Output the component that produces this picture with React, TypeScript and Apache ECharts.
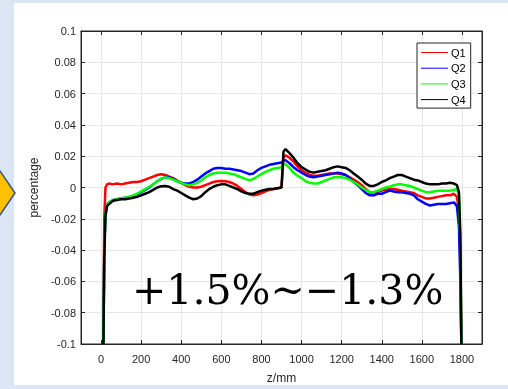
import React, { useEffect, useRef } from "react";
import * as echarts from "echarts";

const zMm = [
  12, 16, 22, 30,
  40, 60, 80, 100, 120, 140, 160, 180, 200, 220,
  240, 260, 280, 300, 320, 340, 360, 380, 400, 420,
  440, 460, 480, 500, 520, 540, 560, 580, 600, 620,
  640, 660, 680, 700, 720, 740, 760, 780, 800, 820,
  840, 860, 880, 900, 910, 920,
  940, 960, 980, 1000, 1020, 1040, 1060, 1080, 1100, 1120,
  1140, 1160, 1180, 1200, 1220, 1240, 1260, 1280, 1300, 1320,
  1340, 1360, 1380, 1400, 1420, 1440, 1460, 1480, 1500, 1520,
  1540, 1560, 1580, 1600, 1620, 1640, 1660, 1680, 1700, 1720,
  1740, 1760, 1775, 1785, 1792, 1797,
];

const q1 = [
  -0.1, -0.02, 0, 0.002,
  0.0025, 0.002, 0.0025, 0.002, 0.0025, 0.003, 0.0035, 0.0035, 0.004, 0.005,
  0.006, 0.007, 0.008, 0.0085, 0.008, 0.007, 0.006, 0.0045, 0.003, 0.0015,
  0.0005, 0, 0, 0.0005, 0.0015, 0.0025, 0.0035, 0.004, 0.0042, 0.004,
  0.0035, 0.0025, 0.001, -0.001, -0.003, -0.0045, -0.005, -0.0045, -0.0035, -0.0025,
  -0.0015, -0.001, -0.0005, 0, 0.019, 0.0205,
  0.019, 0.0165, 0.0135, 0.011, 0.0095, 0.008, 0.0075, 0.0075, 0.008, 0.0085,
  0.009, 0.009, 0.009, 0.0085, 0.008, 0.0065, 0.005, 0.0035, 0.0015, -0.001,
  -0.003, -0.005, -0.003, -0.002, -0.0015, -0.001, -0.001, -0.0015, -0.002, -0.0025,
  -0.003, -0.0035, -0.005, -0.006, -0.007, -0.007, -0.0065, -0.006, -0.0055, -0.005,
  -0.005, -0.004, -0.006, -0.015, -0.045, -0.1,
];

const q2 = [
  -0.1, -0.04, -0.017, -0.011,
  -0.0095, -0.008, -0.0075, -0.007, -0.0065, -0.006, -0.0055, -0.0045, -0.003, -0.0015,
  0, 0.002, 0.004, 0.0055, 0.0065, 0.0065, 0.0055, 0.004, 0.003, 0.0025,
  0.0025, 0.0035, 0.005, 0.007, 0.009, 0.0105, 0.012, 0.0125, 0.0125, 0.012,
  0.012, 0.0115, 0.011, 0.0105, 0.0095, 0.0085, 0.009, 0.011, 0.0125, 0.0135,
  0.0145, 0.015, 0.0155, 0.016, 0.017, 0.0175,
  0.0155, 0.013, 0.011, 0.0095, 0.008, 0.007, 0.0065, 0.007, 0.0075, 0.008,
  0.0085, 0.009, 0.0095, 0.009, 0.008, 0.006, 0.0035, 0.0015, -0.001, -0.0035,
  -0.005, -0.005, -0.004, -0.004, -0.003, -0.002, -0.0025, -0.003, -0.003, -0.0035,
  -0.004, -0.005, -0.0075, -0.009, -0.0105, -0.0115, -0.011, -0.0105, -0.0105, -0.0105,
  -0.01, -0.0095, -0.012, -0.025, -0.06, -0.1,
];

const q3 = [
  -0.1, -0.04, -0.017, -0.011,
  -0.0095, -0.008, -0.0075, -0.007, -0.0065, -0.006, -0.005, -0.004, -0.0025, -0.001,
  0.0005, 0.002, 0.004, 0.0055, 0.0065, 0.006, 0.005, 0.004, 0.003, 0.002,
  0.0015, 0.002, 0.003, 0.0045, 0.0065, 0.008, 0.009, 0.0095, 0.0095, 0.0095,
  0.009, 0.0085, 0.0075, 0.0065, 0.0055, 0.0045, 0.0055, 0.007, 0.0085, 0.01,
  0.011, 0.012, 0.0125, 0.013, 0.0145, 0.015,
  0.0125, 0.0095, 0.0075, 0.006, 0.004, 0.003, 0.0025, 0.0025, 0.0035, 0.0045,
  0.0055, 0.0065, 0.0065, 0.0065, 0.006, 0.005, 0.0035, 0.002, 0, -0.0015,
  -0.003, -0.003, -0.002, -0.001, 0, 0.0005, 0.0015, 0.002, 0.002, 0.0015,
  0.001, 0, -0.001, -0.002, -0.003, -0.003, -0.0025, -0.002, -0.002, -0.002,
  -0.002, -0.0015, -0.001, -0.005, -0.035, -0.1,
];

const q4 = [
  -0.1, -0.045, -0.018, -0.012,
  -0.0105, -0.0085, -0.008, -0.0075, -0.0075, -0.007, -0.0065, -0.006, -0.005, -0.004,
  -0.003, -0.0015, 0, 0.0008, 0.001, 0.0005, -0.001, -0.002, -0.0035, -0.005,
  -0.0065, -0.0075, -0.007, -0.0055, -0.003, -0.001, 0.0005, 0.0015, 0.002, 0.002,
  0.001, 0, -0.001, -0.0025, -0.0035, -0.004, -0.004, -0.003, -0.002, -0.0015,
  -0.001, -0.001, -0.0005, 0, 0.023, 0.0245,
  0.022, 0.019, 0.0155, 0.013, 0.0115, 0.01, 0.0095, 0.01, 0.0105, 0.011,
  0.012, 0.013, 0.0135, 0.013, 0.0125, 0.011, 0.009, 0.007, 0.005, 0.0025,
  0.001, 0.001, 0.002, 0.0035, 0.0045, 0.006, 0.007, 0.008, 0.008, 0.007,
  0.006, 0.005, 0.0045, 0.0035, 0.0025, 0.002, 0.002, 0.002, 0.0025, 0.0025,
  0.003, 0.0025, 0.0015, -0.003, -0.03, -0.1,
];

const seriesNames = ["Q1", "Q2", "Q3", "Q4"];
const seriesColors = ["#ff0000", "#0000ff", "#00ff00", "#000000"];
const seriesValues = [q1, q2, q3, q4];
const annotation = "+1.5%~\u22121.3%";

const AXIS_COLOR = "#262626";
const FONT = "'Liberation Sans', Arial, sans-serif";

export default function App() {
  const ref = useRef<HTMLDivElement>(null);

  useEffect(() => {
    if (!ref.current) return;
    const chart = echarts.init(ref.current, undefined, { renderer: "svg" });

    const xCommon = {
      type: "value" as const,
      min: -100,
      max: 1900,
      splitNumber: 10,
    };
    const yCommon = {
      type: "value" as const,
      min: -0.1,
      max: 0.1,
      interval: 0.02,
    };

    chart.setOption({
      animation: false,
      backgroundColor: "transparent",
      graphic: [
        { type: "rect", z: -10, shape: { x: 0, y: 0, width: 508, height: 389 }, style: { fill: "#dae6f3" } },
        { type: "rect", z: -9, shape: { x: 14, y: 3, width: 494, height: 382 }, style: { fill: "#ffffff" } },
        {
          type: "polygon",
          z: -8,
          shape: { points: [[-20, 171], [0, 171], [15, 193], [0, 215], [-20, 215]] },
          style: { fill: "#ffc000", stroke: "#2f528f", lineWidth: 1.5 },
        },
        {
          type: "text",
          z: 50,
          x: 132,
          y: 290,
          style: {
            text: annotation,
            font: "41px 'DejaVu Serif', serif",
            fill: "#000000",
            align: "left",
            verticalAlign: "middle",
          },
        },
      ],
      grid: { left: 81, right: 26, top: 31, bottom: 42, show: true, backgroundColor: "#ffffff", borderColor: AXIS_COLOR, borderWidth: 1 },
      legend: {
        data: seriesNames,
        orient: "vertical",
        left: 417,
        top: 43,
        width: 53,
        itemWidth: 27,
        itemHeight: 10,
        itemGap: 4.7,
        padding: [4, 5, 3, 4],
        backgroundColor: "#ffffff",
        borderColor: AXIS_COLOR,
        borderWidth: 1,
        textStyle: { fontFamily: FONT, fontSize: 11, color: "#000000", padding: [0, 0, 0, -2] },
        icon: "path://M0,5 L27,5 L27,6 L0,6 Z",
      },
      xAxis: [
        {
          ...xCommon,
          position: "bottom",
          name: "z/mm",
          nameLocation: "middle",
          nameGap: 28,
          nameTextStyle: { fontFamily: FONT, fontSize: 12, color: AXIS_COLOR },
          axisLine: { show: true, onZero: false, lineStyle: { color: AXIS_COLOR, width: 1 } },
          axisTick: { show: true, inside: true, length: 4, lineStyle: { color: AXIS_COLOR } },
          axisLabel: {
            showMinLabel: false,
            showMaxLabel: false,
            fontFamily: FONT,
            fontSize: 11,
            color: AXIS_COLOR,
            margin: 9,
            formatter: (v: number) => String(Math.round(v)),
          },
          splitLine: { show: true, lineStyle: { color: "#e6e6e6", width: 1 } },
        },
        {
          ...xCommon,
          position: "top",
          axisLine: { show: true, onZero: false, lineStyle: { color: AXIS_COLOR, width: 1 } },
          axisTick: { show: true, inside: true, length: 4, lineStyle: { color: AXIS_COLOR } },
          axisLabel: { show: false },
          splitLine: { show: false },
        },
      ],
      yAxis: [
        {
          ...yCommon,
          position: "left",
          name: "percentage",
          nameLocation: "middle",
          nameGap: 32,
          nameRotate: 90,
          nameTextStyle: { fontFamily: FONT, fontSize: 12, color: AXIS_COLOR },
          axisLine: { show: true, onZero: false, lineStyle: { color: AXIS_COLOR, width: 1 } },
          axisTick: { show: true, inside: true, length: 4, lineStyle: { color: AXIS_COLOR } },
          axisLabel: {
            fontFamily: FONT,
            fontSize: 11,
            color: AXIS_COLOR,
            margin: 5,
            formatter: (v: number) => String(parseFloat(v.toFixed(2))),
          },
          splitLine: { show: true, lineStyle: { color: "#e6e6e6", width: 1 } },
        },
        {
          ...yCommon,
          position: "right",
          axisLine: { show: true, onZero: false, lineStyle: { color: AXIS_COLOR, width: 1 } },
          axisTick: { show: true, inside: true, length: 4, lineStyle: { color: AXIS_COLOR } },
          axisLabel: { show: false },
          splitLine: { show: false },
        },
      ],
      series: seriesNames.map((name, i) => ({
        name,
        type: "line",
        xAxisIndex: 0,
        yAxisIndex: 0,
        showSymbol: false,
        symbol: "none",
        color: seriesColors[i],
        lineStyle: { color: seriesColors[i], width: 2.5 },
        data: zMm.map((z, k) => [z, seriesValues[i][k]]),
        z: 2 + i,
      })),
    });

    return () => chart.dispose();
  }, []);

  return (
    <div
      ref={ref}
      style={{ position: "fixed", left: 0, top: 0, width: 508, height: 389 }}
    />
  );
}
